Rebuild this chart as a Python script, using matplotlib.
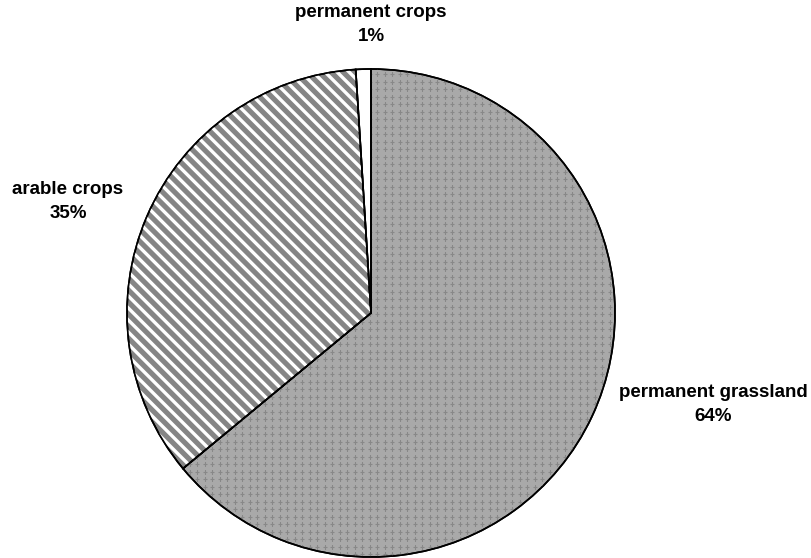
import numpy as np
import matplotlib.pyplot as plt
from matplotlib.collections import LineCollection

plt.rcParams['font.family'] = ['Liberation Sans', 'DejaVu Sans']

# land use shares (%), clockwise from top
labels = ['permanent grassland', 'arable crops', 'permanent crops']
shares = [64, 35, 1]
face_colors = ['#a9a9a9', '#858585', '#ffffff']

# label placement, in units of pie radius (centre at 0,0)
label_xy = [(1.402, -0.375), (-1.242, 0.457), (0.0, 1.184)]

W, H = 812, 558
cx, cy, R = 371, 313, 244
px = 1.0 / R   # one pixel in data units

fig = plt.figure(figsize=(W / 100, H / 100), dpi=100)
ax = fig.add_axes([0, 0, 1, 1])

wedges, _ = ax.pie(shares, startangle=90, counterclock=False, radius=1,
                   colors=face_colors,
                   wedgeprops=dict(linewidth=1.2, edgecolor='black'))

# texture for arable crops: white diagonal stripes
step = 8.5 * px * np.sqrt(2)
segs = [[(-1.2, c + 1.2), (1.2, c - 1.2)] for c in np.arange(-2.6, 2.6, step)]
lc = LineCollection(segs, colors='white', linewidths=2.4,
                    zorder=wedges[1].get_zorder() + 0.1)
ax.add_collection(lc)
lc.set_clip_path(wedges[1])

# texture for permanent grassland: small grey crosses
g = np.arange(-1.05, 1.05, 7.5 * px)
gx, gy = np.meshgrid(g, g)
dots, = ax.plot(gx.ravel(), gy.ravel(), '+', ms=3.5, mew=0.8, color='#888888',
                zorder=wedges[0].get_zorder() + 0.1)
dots.set_clip_path(wedges[0])

# redraw outlines on top
ax.pie(shares, startangle=90, counterclock=False, radius=1,
       colors=['none'] * 3,
       wedgeprops=dict(linewidth=1.2, edgecolor='black', fill=False, zorder=5))

for lab, s, (x, y) in zip(labels, shares, label_xy):
    ax.text(x, y, '%s\n%d%%' % (lab, s), ha='center', va='center',
            fontsize=13.5, fontweight='bold', linespacing=1.55)

ax.set_xlim(-cx / R, (W - cx) / R)
ax.set_ylim(-(H - cy) / R, cy / R)
ax.set_aspect('equal')
ax.axis('off')

fig.savefig('out.png', dpi=100)
